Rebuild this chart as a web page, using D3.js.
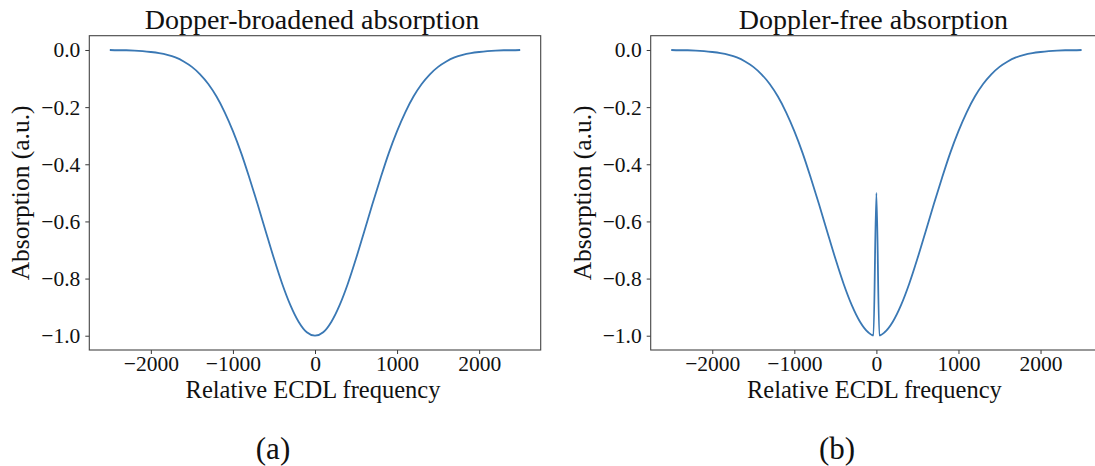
<!DOCTYPE html>
<html>
<head>
<meta charset="utf-8">
<script src="https://cdn.jsdelivr.net/npm/d3@7"></script>
<style>
  html, body { margin: 0; padding: 0; background: #fff; }
  svg { display: block; }
  text { font-family: "Liberation Serif", "DejaVu Serif", serif; fill: #111; }
</style>
</head>
<body>
<svg id="chart" width="1095" height="466"></svg>
<script>
// ---- data ----
const freqA = [-2500,-2400,-2300,-2200,-2100,-2000,-1900,-1800,-1700,-1600,-1500,-1400,-1300,-1200,-1100,-1000,-900,-800,-700,-600,-500,-400,-300,-200,-100,
  0,100,200,300,400,500,600,700,800,900,1000,1100,1200,1300,1400,1500,1600,1700,1800,1900,2000,2100,2200,2300,2400,2500];
const absorbA = [-0.000,-0.001,-0.001,-0.002,-0.004,-0.007,-0.011,-0.017,-0.026,-0.040,-0.059,-0.085,-0.119,-0.163,-0.218,-0.284,-0.360,-0.447,-0.539,-0.635,-0.730,-0.818,-0.893,-0.951,-0.988,
  -1.000,-0.988,-0.951,-0.893,-0.818,-0.730,-0.635,-0.539,-0.447,-0.360,-0.284,-0.218,-0.163,-0.119,-0.085,-0.059,-0.040,-0.026,-0.017,-0.011,-0.007,-0.004,-0.002,-0.001,-0.001,-0.000];

const freqB = [-2500,-2400,-2300,-2200,-2100,-2000,-1900,-1800,-1700,-1600,-1500,-1400,-1300,-1200,-1100,-1000,-900,-800,-700,-600,-500,-400,-300,-200,-100,-36,
  0,36,100,200,300,400,500,600,700,800,900,1000,1100,1200,1300,1400,1500,1600,1700,1800,1900,2000,2100,2200,2300,2400,2500];
const absorbB = [-0.000,-0.001,-0.001,-0.002,-0.004,-0.007,-0.011,-0.017,-0.026,-0.040,-0.059,-0.085,-0.119,-0.163,-0.218,-0.284,-0.360,-0.447,-0.539,-0.635,-0.730,-0.818,-0.893,-0.951,-0.988,-0.999,
  -0.500,-0.999,-0.988,-0.951,-0.893,-0.818,-0.730,-0.635,-0.539,-0.447,-0.360,-0.284,-0.218,-0.163,-0.119,-0.085,-0.059,-0.040,-0.026,-0.017,-0.011,-0.007,-0.004,-0.002,-0.001,-0.001,-0.000];

const xTicks = [-2000, -1000, 0, 1000, 2000];
const yTicks = [0.0, -0.2, -0.4, -0.6, -0.8, -1.0];
const titles = ["Dopper-broadened absorption", "Doppler-free absorption"];
const subLabels = ["(a)", "(b)"];
const xLabel = "Relative ECDL frequency";
const yLabel = "Absorption (a.u.)";

// ---- layout ----
const panels = [
  { left: 89.3, right: 540.7, freq: freqA, vals: absorbA, title: titles[0], sub: subLabels[0], subX: 273 },
  { left: 650.7, right: 1102.1, freq: freqB, vals: absorbB, title: titles[1], sub: subLabels[1], subX: 837 }
];
const plotTop = 35.7, plotBottom = 350;
const lineColor = "#3a78b4";

const svg = d3.select("#chart");
const fmtMinus = s => s.replace("-", "\u2212\u2009");

panels.forEach(p => {
  const x = d3.scaleLinear().domain([-2750, 2750]).range([p.left, p.right]);
  const y = d3.scaleLinear().domain([-1.05, 0.05]).range([plotBottom, plotTop]);
  const g = svg.append("g");

  // data line
  const pts = p.freq.map((f, i) => [f, p.vals[i]]);
  g.append("path")
    .datum(pts)
    .attr("fill", "none")
    .attr("stroke", lineColor)
    .attr("stroke-width", 1.8)
    .attr("stroke-linejoin", "round")
    .attr("d", d3.line().x(d => x(d[0])).y(d => y(d[1])).curve(d3.curveMonotoneX));

  // x axis
  const xAxis = d3.axisBottom(x).tickValues(xTicks).tickSize(4).tickPadding(5)
    .tickFormat(d => fmtMinus(d3.format("d")(d)));
  const gx = g.append("g").attr("transform", `translate(0,${plotBottom})`).call(xAxis);
  gx.select(".domain").remove();
  gx.selectAll(".tick line").attr("stroke", "#222").attr("stroke-width", 0.9);
  gx.selectAll(".tick text").attr("font-size", 21.5).attr("fill", "#111")
    .attr("font-family", "Liberation Serif, serif")
    .attr("dy", null).attr("y", 21);

  // y axis
  const yAxis = d3.axisLeft(y).tickValues(yTicks).tickSize(4).tickPadding(5)
    .tickFormat(d => fmtMinus(d3.format(".1f")(d)));
  const gy = g.append("g").attr("transform", `translate(${p.left},0)`).call(yAxis);
  gy.select(".domain").remove();
  gy.selectAll(".tick line").attr("stroke", "#222").attr("stroke-width", 0.9);
  gy.selectAll(".tick text").attr("font-size", 21.5).attr("fill", "#111")
    .attr("font-family", "Liberation Serif, serif");

  // frame
  g.append("rect")
    .attr("x", p.left).attr("y", plotTop)
    .attr("width", p.right - p.left).attr("height", plotBottom - plotTop)
    .attr("fill", "none").attr("stroke", "#444").attr("stroke-width", 1.1);

  const cx = (p.left + p.right) / 2;
  // title
  g.append("text").attr("x", cx - 3).attr("y", 29).attr("text-anchor", "middle")
    .attr("font-size", 28).text(p.title);
  // x label
  g.append("text").attr("x", cx - 2).attr("y", 398).attr("text-anchor", "middle")
    .attr("font-size", 24.5).text(xLabel);
  // y label
  g.append("text")
    .attr("transform", `translate(${p.left - 60},${(plotTop + plotBottom) / 2}) rotate(-90)`)
    .attr("text-anchor", "middle").attr("font-size", 25.5).text(yLabel);
  // sub label
  g.append("text").attr("x", p.subX).attr("y", 459).attr("text-anchor", "middle")
    .attr("font-size", 31).text(p.sub);
});
</script>
</body>
</html>
